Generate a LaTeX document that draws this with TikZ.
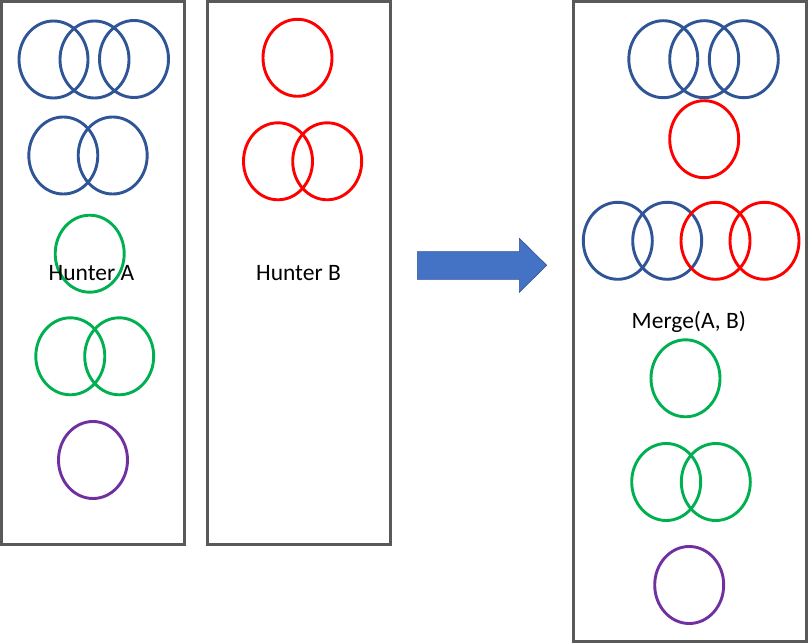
\documentclass[tikz,border=0pt]{standalone}
\usepackage{fontspec}
\setmainfont{Carlito}
\usetikzlibrary{shapes.geometric}
\definecolor{boxgray}{HTML}{595959}
\definecolor{sblue}{HTML}{2F5597}
\definecolor{sred}{HTML}{FF0000}
\definecolor{sgreen}{HTML}{00B050}
\definecolor{spurple}{HTML}{7030A0}
\definecolor{afill}{HTML}{4472C4}
\definecolor{aline}{HTML}{2F528F}
\tikzset{
  panel/.style={draw=boxgray, line width=3pt, fill=white},
  setshape/.style={ellipse, draw=#1, line width=2.9pt, minimum width=69pt, minimum height=77pt, inner sep=0pt},
  label/.style={font=\fontsize{23.5}{26}\selectfont, inner sep=0pt, text=black}
}
\begin{document}
\begin{tikzpicture}[x=1pt,y=-1pt]
\useasboundingbox (0,0) rectangle (808,644);
% panels
\draw[panel] (1.5,1.5) rectangle (184,544.5);
\draw[panel] (207.2,1.5) rectangle (390,544.5);
\draw[panel] (573.3,1.7) rectangle (806.3,641.7);
% Hunter A
\node[setshape=sblue] (a1) at (53.5,59.5) {};
\node[setshape=sblue] (a2) at (94.5,59.5) {};
\node[setshape=sblue] (a3) at (134,59) {};
\node[setshape=sblue] (a4) at (63.3,155.5) {};
\node[setshape=sblue] (a5) at (112.7,155.5) {};
\node[setshape=sgreen] (a6) at (89.7,253.7) {};
\node[label] (ta) at (91.5,273) {Hunter A};
\node[setshape=sgreen] (a7) at (70.3,356.3) {};
\node[setshape=sgreen] (a8) at (119.2,356.3) {};
\node[setshape=spurple] (a9) at (93,460) {};
% Hunter B
\node[setshape=sred] (b1) at (297.5,57.8) {};
\node[setshape=sred] (b2) at (278,161.3) {};
\node[setshape=sred] (b3) at (327.2,161.3) {};
\node[label] (tb) at (298.5,273) {Hunter B};
% arrow
\filldraw[fill=afill, draw=aline, line width=0.6pt]
  (417.3,251.7) -- (519.3,251.7) -- (519.3,238.3) -- (546.7,265.3)
  -- (519.3,292.3) -- (519.3,279.3) -- (417.3,279.3) -- cycle;
% Merge
\node[setshape=sblue] (m1) at (663.3,59.2) {};
\node[setshape=sblue] (m2) at (704.2,59.2) {};
\node[setshape=sblue] (m3) at (743.8,59.2) {};
\node[setshape=sred] (m4) at (704.2,139.2) {};
\node[setshape=sblue] (m5) at (617.8,240.8) {};
\node[setshape=sblue] (m6) at (667.2,240.8) {};
\node[setshape=sred] (m7) at (715.5,240.8) {};
\node[setshape=sred] (m8) at (764.5,240.8) {};
\node[label] (tm) at (688.8,322) {Merge(A, B)};
\node[setshape=sgreen] (m9) at (685.5,378.3) {};
\node[setshape=sgreen] (m10) at (666.2,482) {};
\node[setshape=sgreen] (m11) at (715.8,482) {};
\node[setshape=spurple] (m12) at (689.2,585) {};
\end{tikzpicture}
\end{document}
